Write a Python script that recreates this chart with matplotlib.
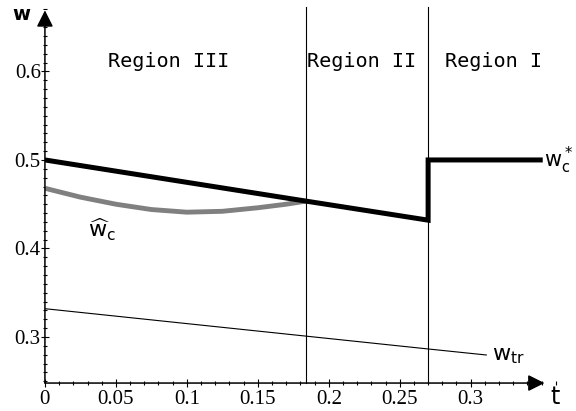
import numpy as np
import matplotlib.pyplot as plt
from matplotlib.ticker import MultipleLocator

plt.rcParams['mathtext.fontset'] = 'dejavusans'
plt.rcParams['mathtext.default'] = 'regular'

# region boundaries
t_b1 = 0.184
t_b2 = 0.270

# optimal w_c* : falls linearly in regions III and II, then jumps back to 0.5
wstar_t = [0.0, 0.184, 0.270, 0.270, 0.349]
wstar_w = [0.500, 0.4535, 0.432, 0.500, 0.500]

# \hat w_c curve (region III only)
what_t = [0.0, 0.025, 0.05, 0.075, 0.10, 0.125, 0.15, 0.17, 0.184]
what_w = [0.468, 0.458, 0.450, 0.444, 0.441, 0.442, 0.446, 0.450, 0.4535]

# w_tr line
wtr_t = [0.0, 0.184, 0.270, 0.311]
wtr_w = [0.332, 0.301, 0.2865, 0.2797]

region_names = ['Region III', 'Region II', 'Region I']
region_t = [0.087, 0.223, 0.316]

xticks = [0, 0.05, 0.1, 0.15, 0.2, 0.25, 0.3]
xtick_labels = ['0', '0.05', '0.1', '0.15', '0.2', '0.25', '0.3']
yticks = [0.3, 0.4, 0.5, 0.6]
ytick_labels = ['0.3', '0.4', '0.5', '0.6']

fig = plt.figure(figsize=(5.76, 4.11), dpi=100)
ax = fig.add_axes([0.078, 0.068, 0.887, 0.909])
ax.set_xlim(0, 0.36)
ax.set_ylim(0.248, 0.67)

for s in ax.spines.values():
    s.set_visible(False)

# axes with arrow heads
arrow_kw = dict(arrowstyle='-|>,head_length=0.5,head_width=0.25', color='black',
                lw=1.1, mutation_scale=20, shrinkA=0, shrinkB=0)
ax.annotate('', xy=(0, 0.669), xytext=(0, 0.248), arrowprops=arrow_kw,
            annotation_clip=False)
ax.annotate('', xy=(0.352, 0.248), xytext=(0, 0.248), arrowprops=arrow_kw,
            annotation_clip=False)

# region boundaries
for tb in [t_b1, t_b2]:
    ax.plot([tb, tb], [0.248, 0.673], color='black', lw=0.8, clip_on=False)

ax.plot(wtr_t, wtr_w, color='black', lw=0.8)
ax.plot(what_t, what_w, color='#808080', lw=3.5, solid_capstyle='butt')
ax.plot(wstar_t, wstar_w, color='black', lw=3.6, solid_joinstyle='miter')

# ticks
ax.set_xticks(xticks)
ax.set_xticklabels(xtick_labels)
ax.set_yticks(yticks)
ax.set_yticklabels(ytick_labels)
ax.xaxis.set_minor_locator(MultipleLocator(0.01))
ax.yaxis.set_minor_locator(MultipleLocator(0.01))
ax.tick_params(which='major', direction='inout', length=6, width=0.8, pad=2)
ax.tick_params(which='minor', direction='inout', length=3, width=0.8)
ax.tick_params(axis='y', pad=0)
for lab in ax.get_xticklabels() + ax.get_yticklabels():
    lab.set_fontfamily('Liberation Serif')
    lab.set_fontsize(15)

# text
for name, tx in zip(region_names, region_t):
    ax.text(tx, 0.611, name, ha='center', va='center',
            family='DejaVu Sans Mono', fontsize=14.5)

ax.text(0.3515, 0.5, r'$w_c^*$', ha='left', va='center', fontsize=15)
ax.text(0.030, 0.421, r'$\widehat{w}_c$', ha='left', va='center', fontsize=16)
ax.text(0.315, 0.279, r'$w_{tr}$', ha='left', va='center', fontsize=16)
fig.text(0.022, 0.965, 'w', ha='left', va='center', fontsize=14, fontweight='bold')
fig.text(0.955, 0.035, 't', ha='left', va='center', fontsize=17)

fig.savefig('out.png', dpi=100)
